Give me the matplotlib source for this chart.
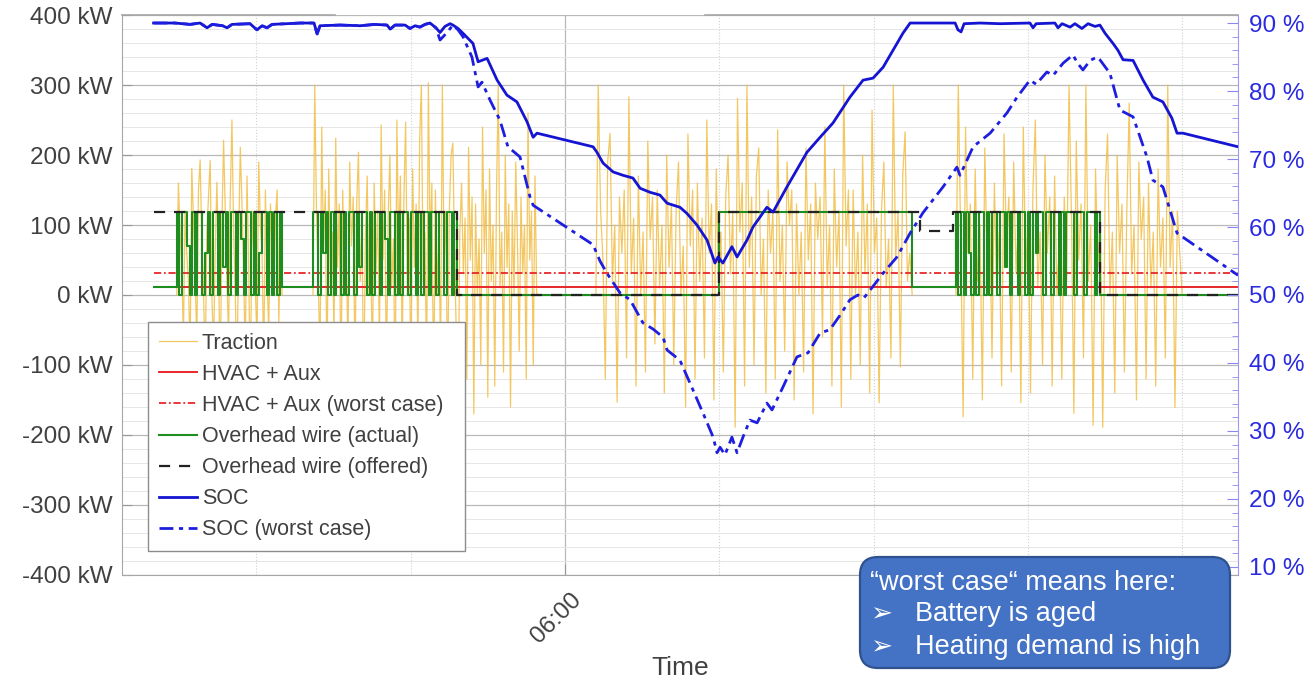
import numpy as np
import matplotlib
matplotlib.use("Agg")
import matplotlib.pyplot as plt
from matplotlib.ticker import MultipleLocator, FuncFormatter
from matplotlib.patches import FancyBboxPatch
import matplotlib.transforms as mtransforms

plt.rcParams['font.family'] = ['Liberation Sans', 'DejaVu Sans']

# ---------------- data (time in minutes since 00:00) ----------------
time_limits = [187.7, 621.7]
data_span = [200, 621.7]
hvac_kw = 11
hvac_worst_kw = 31

soc_t = [200, 208.3, 214.2, 218.1, 220.8, 222.8, 226.8, 228.6, 230.5, 237.5,
         240.2, 242.2, 244.1, 246.1, 257.0, 262.4, 263.6, 264.7, 272.5, 280.3,
         286.1, 290.8, 292.0, 293.9, 297.8, 299.7, 301.7, 303.6, 305.6, 307.5,
         309.8, 311.4, 313.3, 315.3, 316.4, 318.4, 320.3, 324.2, 326.2, 329.7,
         333.6, 337.4, 341.3, 345.2, 347.6, 349.1, 370.9, 372.4, 374.8, 378.7,
         382.6, 386.4, 389.2, 393.1, 396.9, 399.7, 404.7, 407.4, 411.3, 415.2,
         418.3, 419.5, 421.4, 424.9, 426.9, 430.8, 433.1, 438.5, 440.9, 446.3,
         454.1, 459.2, 464.2, 470.8, 475.9, 479.8, 483.7, 489.1, 491.4, 494.2,
         511.7, 512.8, 514.0, 515.2, 521.4, 529.2, 540.8, 542.0, 543.2, 550.5,
         551.7, 553.3, 556.4, 558.3, 561.0, 563.4, 566.1, 568.0, 570.0, 573.1,
         575.0, 577.0, 580.9, 584.8, 588.6, 592.5, 596.0, 598.0, 600.3, 621.7]
soc_pct = [90.0, 90.0, 89.8, 90.0, 89.3, 89.8, 89.6, 89.3, 89.8, 89.9,
           89.0, 89.6, 89.3, 89.8, 90.0, 90.0, 88.4, 89.6, 89.7, 89.6,
           89.8, 89.7, 89.1, 89.7, 89.7, 89.2, 89.6, 89.4, 89.8, 90.0,
           89.3, 88.6, 89.5, 89.9, 89.7, 89.2, 88.5, 87.0, 84.3, 84.8,
           81.6, 79.4, 78.4, 75.5, 73.2, 73.8, 71.8, 71.0, 69.4, 68.1,
           67.6, 67.2, 65.7, 65.1, 64.7, 63.5, 62.9, 62.0, 60.3, 58.1,
           54.7, 55.6, 54.7, 57.1, 55.6, 58.1, 60.0, 62.9, 62.2, 65.9,
           71.0, 73.2, 75.3, 79.1, 81.6, 81.9, 83.5, 87.0, 88.5, 90.0,
           90.0, 89.0, 88.7, 89.9, 90.0, 89.9, 90.0, 89.3, 89.9, 90.0,
           89.3, 89.9, 89.4, 89.9, 89.2, 89.9, 89.5, 89.7, 88.5, 87.0,
           86.0, 84.6, 84.5, 81.6, 79.1, 78.4, 76.0, 73.8, 73.8, 71.8]

socw_t = [200, 208.3, 214.2, 218.1, 220.8, 222.8, 226.8, 228.6, 230.5, 237.5,
          240.2, 242.2, 244.1, 246.1, 257.0, 262.4, 263.6, 264.7, 272.5, 280.3,
          286.1, 290.8, 292.0, 293.9, 297.8, 299.7, 301.7, 303.6, 305.6, 307.5,
          309.8,
          311.4, 314.1, 316.4, 318.4, 320.3, 323.8, 326.2, 327.7, 330.8, 334.7,
          337.8, 342.5, 346.4, 347.6, 370.9, 373.6, 376.3, 381.4, 385.3, 390.3,
          394.2, 398.1, 399.7, 404.7, 409.8, 413.7, 417.6, 419.1, 420.3, 422.2,
          424.9, 426.9, 429.2, 431.9, 434.7, 438.5, 440.5, 444.8, 450.2, 454.5,
          459.2, 463.0, 466.9, 470.8, 473.9, 476.3, 478.6, 483.7, 489.1, 494.2,
          499.2, 507.0, 512.4, 513.6, 518.7, 525.3, 531.9, 535.8, 540.8, 543.2,
          547.4, 549.8, 553.7, 557.5, 559.5, 561.4, 564.2, 566.9, 568.0, 571.9,
          575.8, 580.9, 586.3, 588.6, 592.5, 598.0, 600.3, 621.7]
socw_pct = [90.0, 90.0, 89.8, 90.0, 89.3, 89.8, 89.6, 89.3, 89.8, 89.9,
            89.0, 89.6, 89.3, 89.8, 90.0, 90.0, 88.4, 89.6, 89.7, 89.6,
            89.8, 89.7, 89.1, 89.7, 89.7, 89.2, 89.6, 89.4, 89.8, 90.0,
            89.3,
            87.5, 88.6, 89.7, 89.0, 88.0, 85.0, 80.6, 81.3, 78.7, 75.7,
            71.8, 70.3, 64.4, 63.2, 57.4, 55.0, 53.2, 50.3, 49.3, 45.9,
            45.0, 43.8, 41.9, 40.4, 36.0, 32.6, 29.1, 26.8, 27.6, 26.5,
            29.1, 26.8, 29.1, 31.6, 31.2, 34.1, 33.1, 36.5, 40.9, 41.5,
            44.4, 44.9, 47.0, 49.3, 50.0, 49.6, 50.7, 53.2, 55.6, 59.1,
            62.1, 65.9, 68.8, 67.6, 71.8, 73.8, 76.8, 79.1, 81.6, 81.0,
            82.8, 82.3, 84.1, 85.3, 84.0, 83.1, 84.5, 85.0, 84.6, 82.6,
            77.2, 76.2, 70.3, 66.9, 65.9, 59.1, 58.5, 52.9]

traction_spans = [(209, 250), (262, 349), (372, 495), (512, 600)]
traction_1 = [0, 160, 90, 40, -60, 120, 60, 20, -90, 181, 110, 30, -70, 150, 193, 80,
              10, -110, 90, 140, 192, 0, -80, 60, 161, 50, -130, 100, 221, 120, 20, -60,
              140, 250, 90, 0, -120, 80, 211, 130, 30, -90, 170, 40, -140, 120, 60, 10,
              -70, 190, 100, 60, -100, 150, 20, -50, 130, 70, 0, 110, 150, -40, 90, 0]
traction_2 = [0, 300, 120, 20, -90, 240, 60, 150, -120, 180, 10, 90, -60, 224, 40, 130,
              -130, 150, 0, 70, -80, 190, 70, 140, -110, 130, 204, 20, 100, -140, 90, 170,
              0, 60, -100, 160, 30, 120, -70, 243, 50, 150, -120, 110, 200, 10, 80, -150,
              250, 60, 170, -90, 140, 247, 0, 110, -130, 180, 40, 130, -80, 220, 300, 20,
              90, -110, 303, 70, 160, -160, 150, 0, 100, -90, 300, 40, 120, -140, 120, 200,
              217, 60, -60, -189, 90, 160, 30, 110, -120, 211, 50, 140, -170, 130, 0, 80,
              -100, 240, 60, 150, -146, 180, 20, 100, -130, 150, 300, 10, 90, -110, 200, 40,
              130, -160, 120, 0, 190, 70, -80, 140, 30, 100, -120, 260, 50, 120, -100, 170, 0]
traction_3 = [0, 300, 120, 50, -120, 190, 231, 20, 100, -153, 140, 60, 150, -90, 283, 30,
              110, -130, 170, 0, 90, -110, 220, 80, 140, -70, 150, 10, 100, -140, 200, 40,
              130, -100, 120, 190, 0, 70, -160, 230, 70, 150, -120, 160, 20, 110, -90, 250,
              60, 130, -150, 180, 0, 90, -110, 140, 200, 30, 120, -189, 281, 90, 160, -130,
              300, 40, 140, -100, 170, 210, 0, 80, -140, 150, 60, 120, -120, 236, 20, 100,
              -80, 190, 100, 150, -150, 130, 0, 90, -110, 210, 50, 130, -170, 160, 80, 140,
              -60, 240, 10, 100, -130, 180, 40, 120, -160, 300, 70, 150, -120, 150, 0, 90,
              -100, 200, 30, 130, -140, 264, 60, 110, -154, 120, 190, 10, 80, -90, 300, 50,
              120, -103, 170, 233, 20, 60, 0]
traction_4 = [0, 300, 80, -174, 240, 60, 130, -120, 180, 20, 100, -150, 210, 40, 120, -90,
              160, 0, 90, -130, 230, 70, 140, -110, 190, 30, 110, -154, 240, 30, 120, -140,
              150, 250, 10, 90, -100, 200, 60, 140, -130, 170, 0, 80, -120, 140, 20, 300,
              110, -169, 220, 50, 130, -90, 300, 20, 100, -186, 180, 40, 120, -189, 150, 230,
              0, 90, -140, 200, 60, 130, -110, 120, 274, 30, 100, -150, 190, 80, 140, -120,
              160, 10, 90, -130, 180, 40, 110, -90, 300, 40, 120, -161, 120, 60, 0]

# overhead wire (actual): steady levels and on/off switching blocks
wire_levels_t = [200, 250, 318, 420, 495, 568, 621.7]
wire_levels_kw = [11, 11, 0, 118, 11, 0, 0]
wire_block_spans = [(209, 250), (262, 318), (512, 568)]
wire_block_1 = [118, 0, 118, 118, 70, 0, 118, 0, 118, 118, 0, 60, 118, 0, 118, 118, 0, 118,
                40, 118, 0, 118, 118, 0, 118, 80, 0, 118, 118, 0, 118, 0, 60, 118, 118, 0,
                118, 0, 118, 0, 118]
wire_block_2 = [118, 118, 0, 118, 60, 118, 0, 118, 0, 118, 118, 0, 118, 0, 118, 118, 0, 118,
                40, 118, 118, 0, 118, 0, 118, 118, 0, 118, 80, 0, 118, 118, 0, 118, 0, 118,
                118, 0, 118, 118, 0, 118, 0, 118, 118, 0, 118, 118, 0, 118, 118, 0, 118, 118,
                0, 118]
wire_block_3 = [118, 0, 118, 0, 118, 60, 0, 118, 0, 118, 118, 0, 118, 0, 118, 118, 0, 118,
                118, 40, 118, 0, 118, 118, 0, 118, 118, 0, 118, 0, 118, 60, 118, 118, 0, 118,
                118, 0, 118, 118, 0, 118, 0, 118, 118, 118, 0, 118, 118, 118, 0, 118, 118, 118,
                0, 118]

offered_t = [200, 318, 420, 498, 511, 568, 621.7]
offered_kw = [118, 0, 118, 92, 118, 0, 0]

# ---------------- build series ----------------
trac_t, trac_v = [], []
for (t0, t1), seg in zip(traction_spans, [traction_1, traction_2, traction_3, traction_4]):
    trac_t += list(np.linspace(t0, t1, len(seg))) + [np.nan]
    trac_v += list(seg) + [np.nan]

pts = list(zip(wire_levels_t, wire_levels_kw))
for (t0, t1), blk in zip(wire_block_spans, [wire_block_1, wire_block_2, wire_block_3]):
    pts += list(zip(np.linspace(t0, t1, len(blk), endpoint=False), blk))
pts.sort(key=lambda p: p[0])
wire_t = [p[0] for p in pts]
wire_v = [p[1] for p in pts]

# ---------------- figure ----------------
fig = plt.figure(figsize=(13.07, 6.82), dpi=100)
ax = fig.add_axes([0.0933, 0.1569, 0.8539, 0.8211])
ax2 = ax.twinx()

txt_col = '#404040'
spine_col = '#a6a6a6'

h_tr, = ax.plot(trac_t, trac_v, color='#f2be45', lw=0.9, alpha=0.85, label='Traction', zorder=2)
h_hv, = ax.plot(data_span, [hvac_kw, hvac_kw], color='#e8262a', lw=1.4,
                label='HVAC + Aux', zorder=3)
h_hw, = ax.plot(data_span, [hvac_worst_kw, hvac_worst_kw], color='#e8262a', lw=1.3,
                ls=(0, (4, 1.5, 1, 1.5)), label='HVAC + Aux (worst case)', zorder=3)
h_gr, = ax.plot(wire_t, wire_v, drawstyle='steps-post', color='#1e8c1e', lw=1.5,
                label='Overhead wire (actual)', zorder=4)
h_of, = ax.plot(offered_t, offered_kw, drawstyle='steps-post', color='#222222', lw=1.6,
                ls=(0, (5, 4)), label='Overhead wire (offered)', zorder=5)

h_soc, = ax2.plot(soc_t, soc_pct, color='#1414d2', lw=2.0, label='SOC', zorder=6)
h_socw, = ax2.plot(socw_t, socw_pct, color='#1e1ee0', lw=2.0, ls=(0, (5, 2, 1.5, 2)),
                   label='SOC (worst case)', zorder=6)

ax.set_xlim(*time_limits)
ax.set_ylim(-400, 400)
ax2.set_ylim(8.82, 91.18)

ax.yaxis.set_major_locator(MultipleLocator(100))
ax.yaxis.set_minor_locator(MultipleLocator(20))
ax.yaxis.set_major_formatter(FuncFormatter(lambda v, p: f"{int(round(v))} kW"))
ax.xaxis.set_major_locator(MultipleLocator(360))
ax.xaxis.set_minor_locator(MultipleLocator(60))
ax.xaxis.set_major_formatter(FuncFormatter(lambda v, p: f"{int(v // 60):02d}:{int(v % 60):02d}"))

ax.set_axisbelow(True)
ax.grid(which='major', axis='both', color='#b8b8b8', lw=0.9)
ax.grid(which='minor', axis='y', color='#e6e6e6', lw=0.7)
ax.grid(which='minor', axis='x', color='#d0d0d0', lw=0.8, ls=':')

ax.tick_params(axis='y', which='major', direction='in', length=7, color='#999999',
               labelsize=17.5, labelcolor=txt_col, pad=7)
ax.tick_params(axis='y', which='minor', length=0)
ax.tick_params(axis='x', which='major', direction='in', length=8, color='#999999',
               labelsize=17.5, labelcolor=txt_col, pad=18, labelrotation=45)
ax.tick_params(axis='x', which='minor', length=0)
offset = mtransforms.ScaledTranslation(0.13, 0.03, fig.dpi_scale_trans)
for lbl in ax.get_xticklabels():
    lbl.set_ha('right')
    lbl.set_va('center')
    lbl.set_rotation_mode('anchor')
    lbl.set_transform(lbl.get_transform() + offset)

ax.set_xlabel('Time', fontsize=19, color=txt_col)
ax.xaxis.set_label_coords(0.5, -0.145)

for s in ['left', 'bottom']:
    ax.spines[s].set_color(spine_col)
ax.spines['top'].set_visible(False)
ax.spines['right'].set_visible(False)
ax.plot([0, 0.191], [1, 1], transform=ax.transAxes, color=spine_col, lw=1.2, clip_on=False)
ax.plot([0.522, 1], [1, 1], transform=ax.transAxes, color=spine_col, lw=1.2, clip_on=False)

for s in ['left', 'bottom', 'top']:
    ax2.spines[s].set_visible(False)
ax2.spines['right'].set_color('#9a9af5')
ax2.yaxis.set_major_locator(MultipleLocator(10))
ax2.yaxis.set_minor_locator(MultipleLocator(2))
ax2.yaxis.set_major_formatter(FuncFormatter(lambda v, p: f"{int(round(v))} %"))
ax2.tick_params(axis='y', which='major', direction='in', length=8, color='#8888f0',
                labelsize=17.5, labelcolor='#2a2ae0', pad=8)
ax2.tick_params(axis='y', which='minor', direction='in', length=4, color='#8888f0')

handles = [h_tr, h_hv, h_hw, h_gr, h_of, h_soc, h_socw]
leg = ax2.legend(handles, [h.get_label() for h in handles], loc='upper left',
                 bbox_to_anchor=(0.0233, 0.0, 0.2841, 0.4518), mode='expand',
                 borderaxespad=0, fontsize=15.5,
                 frameon=True, fancybox=False, edgecolor='#8c8c8c', framealpha=1,
                 handlelength=1.8, handletextpad=0.2, labelspacing=0.47, borderpad=0.5)
leg.get_frame().set_linewidth(1.0)
for t in leg.get_texts():
    t.set_color(txt_col)
leg.set_zorder(20)

# annotation box
box = FancyBboxPatch((8.60, 0.14), 3.70, 1.11, boxstyle='round,pad=0,rounding_size=0.18',
                     transform=fig.dpi_scale_trans, facecolor='#4472C4', edgecolor='#2F528F',
                     lw=1.6, zorder=30)
fig.add_artist(box)
fig.text(8.70, 0.99, '\u201cworst case\u201c means here:', transform=fig.dpi_scale_trans,
         color='white', fontsize=19.5, va='center', ha='left', zorder=31)
fig.text(8.70, 0.68, '\u27a2', transform=fig.dpi_scale_trans, color='white', fontsize=19,
         va='center', ha='left', zorder=31)
fig.text(9.15, 0.68, 'Battery is aged', transform=fig.dpi_scale_trans, color='white',
         fontsize=19.5, va='center', ha='left', zorder=31)
fig.text(8.70, 0.35, '\u27a2', transform=fig.dpi_scale_trans, color='white', fontsize=19,
         va='center', ha='left', zorder=31)
fig.text(9.15, 0.35, 'Heating demand is high', transform=fig.dpi_scale_trans, color='white',
         fontsize=19.5, va='center', ha='left', zorder=31)

fig.savefig('out.png', dpi=100)
